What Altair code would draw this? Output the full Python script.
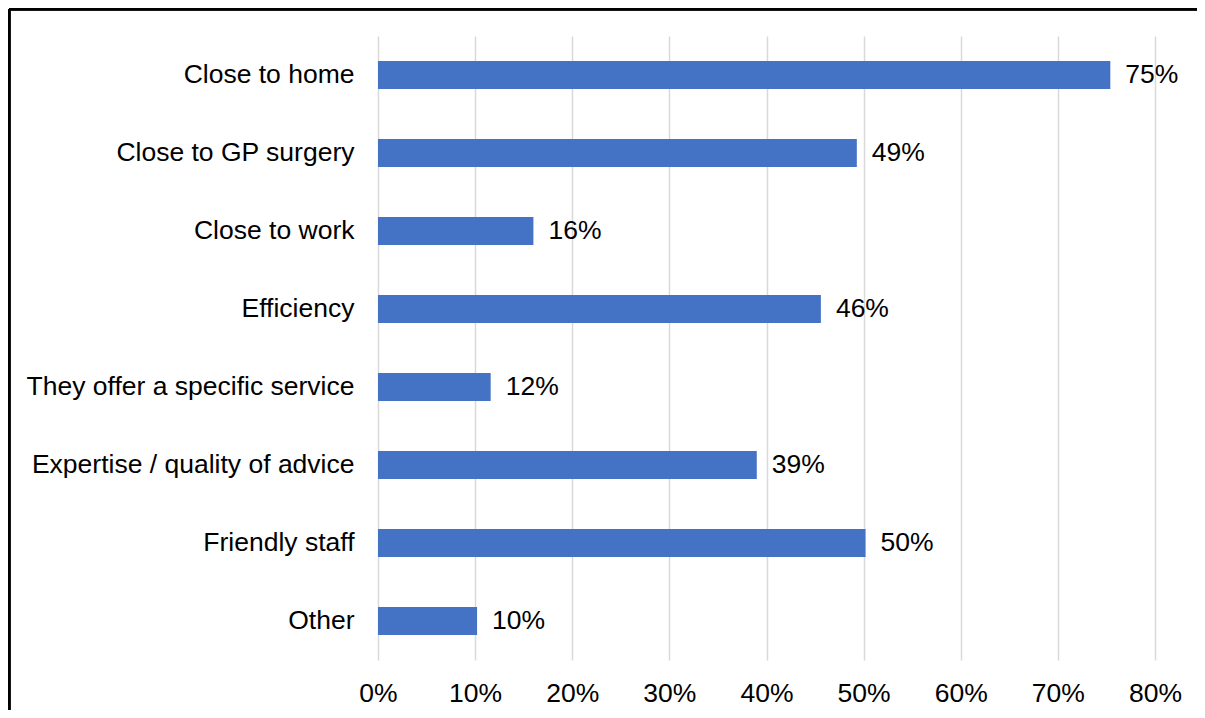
import altair as alt
import pandas as pd

categories = [
    "Close to home",
    "Close to GP surgery",
    "Close to work",
    "Efficiency",
    "They offer a specific service",
    "Expertise / quality of advice",
    "Friendly staff",
    "Other",
]
values = [0.754, 0.493, 0.160, 0.456, 0.116, 0.390, 0.502, 0.102]
tick_values = [0, 0.1, 0.2, 0.3, 0.4, 0.5, 0.6, 0.7, 0.8]

df = pd.DataFrame({"reason": categories, "share": values})

W, H = 777, 624
PL, PT, PR, PB = 370, 28, 42, 50
FONT = "Liberation Sans"
FS = 26.5

base = alt.Chart(df)

bars = base.mark_bar(color="#4472C4", size=28).encode(
    x=alt.X(
        "share:Q",
        scale=alt.Scale(domain=[0, 0.8], nice=False, zero=True),
        axis=alt.Axis(
            format=".0%",
            values=tick_values,
            title=None,
            grid=True,
            gridColor="#d9d9d9",
            gridWidth=1.5,
            domain=False,
            ticks=False,
            tickSize=0,
            labelFlush=False,
            labelPadding=20,
            labelFontSize=FS,
            labelFont=FONT,
            labelColor="#000000",
        ),
    ),
    y=alt.Y(
        "reason:N",
        sort=categories,
        scale=alt.Scale(paddingInner=0, paddingOuter=0),
        axis=alt.Axis(
            title=None,
            domain=False,
            ticks=False,
            tickSize=0,
            grid=False,
            labelPadding=24,
            labelFontSize=FS,
            labelFont=FONT,
            labelColor="#000000",
            labelLimit=400,
        ),
    ),
)

text = base.mark_text(
    align="left", baseline="middle", dx=15, fontSize=FS, font=FONT, color="#000000"
).encode(
    x="share:Q",
    y=alt.Y("reason:N", sort=categories),
    text=alt.Text("share:Q", format=".0%"),
)

border_left = alt.Chart(df).mark_rule(color="#000000", strokeWidth=2.5, clip=False).encode(
    x=alt.value(-PL + 1), y=alt.value(-PT + 1), y2=alt.value(H + PB)
)
border_top = alt.Chart(df).mark_rule(color="#000000", strokeWidth=2.5, clip=False).encode(
    x=alt.value(-PL + 1), x2=alt.value(W + PR), y=alt.value(-PT + 1)
)

chart = (
    alt.layer(bars, text, border_left, border_top)
    .properties(
        width=W,
        height=H,
        padding={"left": PL, "top": PT, "right": PR, "bottom": PB},
        autosize=alt.AutoSizeParams(type="none"),
    )
    .configure(background="#ffffff")
    .configure_view(strokeWidth=0, stroke="transparent")
)

chart.save("out.html", embed_options={"renderer": "svg", "actions": False})
